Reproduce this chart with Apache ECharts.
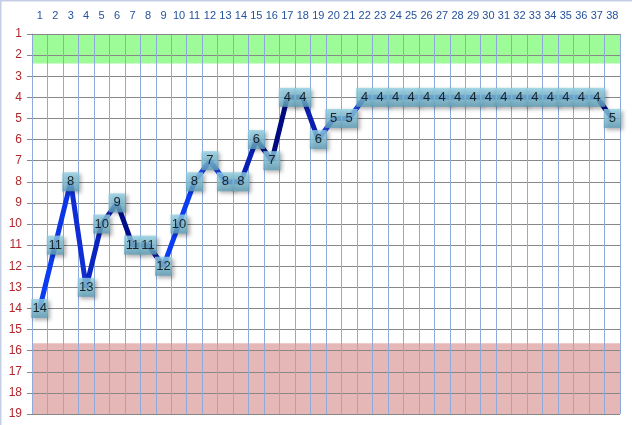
<!DOCTYPE html>
<html>
<head>
<meta charset="utf-8">
<script src="https://cdn.jsdelivr.net/npm/echarts@6/dist/echarts.min.js"></script>
<style>
html,body{margin:0;padding:0;background:#fff;}
#main{width:632px;height:425px;}
</style>
</head>
<body>
<div id="main"></div>
<script>
// ---- data ----
const categories = ['1','2','3','4','5','6','7','8','9','10','11','12','13','14','15','16','17','18','19','20','21','22','23','24','25','26','27','28','29','30','31','32','33','34','35','36','37','38'];
const ranks = [14,11,8,13,10,9,11,11,12,10,8,7,8,8,6,7,4,4,6,5,5,4,4,4,4,4,4,4,4,4,4,4,4,4,4,4,4,5];
const yTicks = {min: 1, max: 19, interval: 1};
const greenBand = [1, 2.4];
const redBand = [15.65, 19];

// ---- styles ----
const segColors = ['#0a3cf2','#0a36e6','#102ed6','#0a24c0','#0818a8','#000e8c','#000e8c','#0a1aa6',
  '#0a3cf2','#0a3cf2','#1a44f0','#1a44f0','#1030d0','#0820b4','#000e8c','#000a80','#000a80','#0a1eb0',
  '#1a40e0','#1a40e0','#1a40e0','#1a40e0','#1a40e0','#1a40e0','#1a40e0','#1a40e0','#1a40e0','#1a40e0',
  '#1a40e0','#1a40e0','#1a40e0','#1a40e0','#1a40e0','#1a40e0','#1a40e0','#1a40e0','#000a88'];
const pieces = segColors.map((c, i) => ({gte: i, lt: i + 1, color: c}));

const chart = echarts.init(document.getElementById('main'));
const FONT = 'Liberation Sans';
chart.setOption({
  animation: false,
  textStyle: {fontFamily: FONT},
  grid: {left: 32, top: 34, width: 588, height: 380, containLabel: false},
  graphic: [{
    type: 'polyline', z: 100,
    shape: {points: [[0.5, 425], [0.5, 0.5], [632, 0.5]]},
    style: {stroke: '#c5cfe3', lineWidth: 2, fill: null}
  }],
  visualMap: {
    show: false, type: 'piecewise', dimension: 0, seriesIndex: 1,
    pieces: pieces, outOfRange: {color: '#1a40e0'}
  },
  xAxis: {
    type: 'category', position: 'top', data: categories, boundaryGap: true, z: 2,
    axisLine: {show: true, lineStyle: {color: '#888', width: 1}},
    axisTick: {show: false},
    axisLabel: {interval: 0, color: '#24529c', fontSize: 11, margin: 13, fontFamily: FONT},
    splitLine: {show: true, interval: 0, lineStyle: {color: '#8eaadb', width: 1}}
  },
  yAxis: {
    type: 'value', inverse: true, min: yTicks.min, max: yTicks.max, interval: yTicks.interval, z: 2,
    axisLine: {show: true, lineStyle: {color: '#8eaadb', width: 1}},
    axisTick: {show: true, length: 5, lineStyle: {color: '#888'}},
    axisLabel: {color: '#b0282e', fontSize: 12, margin: 10, fontFamily: FONT},
    splitLine: {show: true, lineStyle: {color: '#888', width: 1.2}}
  },
  series: [
    {
      type: 'line', data: [], z: 0, silent: true,
      markArea: {
        silent: true, z: 0,
        data: [
          [{yAxis: greenBand[0], itemStyle: {color: '#9dfb98', opacity: 1}}, {yAxis: greenBand[1]}],
          [{yAxis: redBand[0], itemStyle: {color: '#e5b8b7', opacity: 1}}, {yAxis: redBand[1]}]
        ]
      }
    },
    {
      type: 'line', data: ranks, z: 3, showSymbol: false, symbol: 'none',
      lineStyle: {width: 5}
    },
    {
      type: 'scatter', data: ranks, z: 4, symbol: 'rect', symbolSize: [17, 19],
      itemStyle: {
        color: new echarts.graphic.LinearGradient(0, 0, 0, 1, [
          {offset: 0, color: '#93d0e4'}, {offset: 0.6, color: '#7bbcd3'}, {offset: 1, color: '#5f9fb9'}
        ]),
        shadowColor: 'rgba(0,0,0,0.4)', shadowBlur: 4, shadowOffsetX: 2, shadowOffsetY: 2
      },
      label: {show: true, position: 'inside', color: '#000', fontSize: 13, fontFamily: FONT,
        formatter: p => p.value}
    }
  ]
});
</script>
</body>
</html>
